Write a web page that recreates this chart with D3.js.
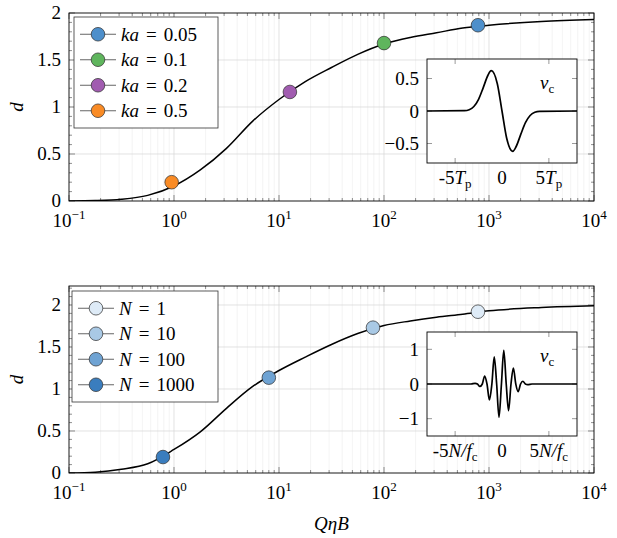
<!DOCTYPE html>
<html>
<head>
<meta charset="utf-8">
<script src="https://cdn.jsdelivr.net/npm/d3@7"></script>
<style>
  body { margin: 0; background: #fff; }
  svg { display: block; }
</style>
</head>
<body>
<div id="chart"></div>
<script>
const WIDTH = 617;
const HEIGHT = 538;
const FONT = "'Liberation Serif', Tinos, 'Noto Serif', 'DejaVu Serif', FreeSerif, 'Nimbus Roman', 'Times New Roman', Times, serif";

// d against QηB
const curveQ = [0.1, 0.178, 0.316, 0.562, 1, 1.78, 3.16, 5.62, 10, 17.8, 31.6, 56.2, 100, 178, 316, 562, 1000, 3162, 10000];
const curveTopD = [0, 0.004, 0.018, 0.06, 0.16, 0.33, 0.56, 0.85, 1.08, 1.27, 1.42, 1.56, 1.67, 1.74, 1.79, 1.84, 1.87, 1.91, 1.93];
const curveBottomD = [0, 0.01, 0.045, 0.11, 0.28, 0.49, 0.77, 1.03, 1.22, 1.38, 1.53, 1.66, 1.755, 1.81, 1.855, 1.89, 1.93, 1.97, 1.99];

// markers, in legend order
const kaLabels = ['0.05', '0.1', '0.2', '0.5'];
const kaQ = [785, 100, 12.7, 0.95];
const kaD = [1.87, 1.68, 1.16, 0.20];
const kaColors = ['#4d8fcb', '#5fb55d', '#a15cb0', '#f98b25'];

const nLabels = ['1', '10', '100', '1000'];
const nQ = [785, 78.5, 8.0, 0.785];
const nD = [1.92, 1.73, 1.135, 0.19];
const nColors = ['#deebf7', '#a9c9e5', '#6fa3d3', '#3a7dbe'];

// inset waveforms
const pulseT = [-8, -4, -3.5, -3, -2.5, -2, -1.5, -1.15, -0.5, 0, 0.5, 1.15, 1.5, 2, 2.5, 3, 3.5, 4, 8];
const pulseV = [0, 0.005, 0.02, 0.07, 0.18, 0.36, 0.55, 0.62, 0.42, 0, -0.42, -0.62, -0.55, -0.36, -0.18, -0.07, -0.02, -0.005, 0];

const burstT = [-8, -3.3, -2.87, -2.62, -2.36, -2.1, -1.85, -1.6, -1.34, -1.08, -0.83, -0.57, -0.32, -0.06, 0.19, 0.45, 0.70, 0.96, 1.21, 1.47, 1.72, 1.98, 2.23, 2.49, 2.74, 3.2, 8];
const burstV = [0, 0, 0.02, 0, -0.07, 0, 0.23, 0, -0.46, 0, 0.78, 0, -0.96, 0, 0.97, 0, -0.77, 0, 0.46, 0, -0.22, 0, 0.08, 0, -0.02, 0, 0];

const xDecades = [0.1, 1, 10, 100, 1000, 10000];
const xDecadeExp = ['−1', '0', '1', '2', '3', '4'];
const yTickValues = [0, 0.5, 1, 1.5, 2];
const yTickLabels = ['0', '0.5', '1', '1.5', '2'];

const svg = d3.select('#chart').append('svg')
  .attr('width', WIDTH)
  .attr('height', HEIGHT)
  .attr('font-family', FONT)
  .style('font-family', FONT);

// text made of plain / italic / sub- and superscript pieces
const addMath = (textSel, parts) => {
  parts.forEach(p => {
    const ts = textSel.append('tspan').text(p.t);
    if (p.italic) ts.attr('font-style', 'italic');
    if (p.size) ts.attr('font-size', p.size);
    if (p.dy) ts.attr('dy', p.dy);
    if (p.dx) ts.attr('dx', p.dx);
  });
  return textSel;
};

const x = d3.scaleLog().domain([0.1, 1e4]).range([69, 594]);

function drawPanel(cfg) {
  const g = svg.append('g');
  const y = d3.scaleLinear().domain([0, cfg.yMax]).range([cfg.bottom, cfg.top]);
  const [x0, x1] = x.range();

  const allX = x.ticks().filter(v => v > 0.1 && v < 1e4);
  const minorX = allX.filter(v => !xDecades.some(d => Math.abs(d - v) < 1e-9));

  // grid
  g.append('g')
    .attr('stroke', '#ececec')
    .attr('stroke-width', 0.6)
    .selectAll('line')
    .data(minorX)
    .join('line')
    .attr('x1', d => x(d)).attr('x2', d => x(d))
    .attr('y1', cfg.top).attr('y2', cfg.bottom);

  g.append('g')
    .attr('stroke', '#d6d6d6')
    .attr('stroke-width', 0.7)
    .call(s => s.selectAll('line.v')
      .data(xDecades.slice(1, -1))
      .join('line')
      .attr('class', 'v')
      .attr('x1', d => x(d)).attr('x2', d => x(d))
      .attr('y1', cfg.top).attr('y2', cfg.bottom))
    .call(s => s.selectAll('line.h')
      .data(yTickValues.filter(v => v > 0 && v < cfg.yMax - 0.01))
      .join('line')
      .attr('class', 'h')
      .attr('x1', x0).attr('x2', x1)
      .attr('y1', d => y(d)).attr('y2', d => y(d)));

  // tick marks, inward on all four sides
  const ticks = g.append('g').attr('stroke', '#444').attr('stroke-width', 0.6);
  const minorY = d3.range(1, Math.round(cfg.yMax * 10) + 1).map(i => i / 10)
    .filter(v => v < cfg.yMax && !yTickValues.some(t => Math.abs(t - v) < 1e-9));
  const xMarks = [...xDecades.map(v => ({ v, len: 6 })), ...minorX.map(v => ({ v, len: 3 }))];
  const yMarks = [...yTickValues.map(v => ({ v, len: 6 })), ...minorY.map(v => ({ v, len: 3 }))];
  [cfg.bottom, cfg.top].forEach(edge => {
    const dir = edge === cfg.bottom ? -1 : 1;
    ticks.append('g').selectAll('line')
      .data(xMarks)
      .join('line')
      .attr('x1', d => x(d.v)).attr('x2', d => x(d.v))
      .attr('y1', edge).attr('y2', d => edge + dir * d.len);
  });
  [x0, x1].forEach(edge => {
    const dir = edge === x0 ? 1 : -1;
    ticks.append('g').selectAll('line')
      .data(yMarks)
      .join('line')
      .attr('y1', d => y(d.v)).attr('y2', d => y(d.v))
      .attr('x1', edge).attr('x2', d => edge + dir * d.len);
  });

  // curve
  const clipId = 'clip-' + cfg.id;
  g.append('clipPath').attr('id', clipId)
    .append('rect')
    .attr('x', x0).attr('y', cfg.top)
    .attr('width', x1 - x0).attr('height', cfg.bottom - cfg.top);

  const line = d3.line()
    .x(d => x(d[0]))
    .y(d => y(d[1]))
    .curve(d3.curveMonotoneX);

  g.append('path')
    .datum(curveQ.map((q, i) => [q, cfg.curveD[i]]))
    .attr('clip-path', `url(#${clipId})`)
    .attr('fill', 'none')
    .attr('stroke', '#000')
    .attr('stroke-width', 1.5)
    .attr('d', line);

  // markers
  g.append('g')
    .attr('stroke', '#2b2b2b')
    .attr('stroke-width', 0.7)
    .selectAll('circle')
    .data(cfg.markerQ.map((q, i) => ({ q, d: cfg.markerD[i], c: cfg.colors[i] })))
    .join('circle')
    .attr('cx', d => x(d.q))
    .attr('cy', d => y(d.d))
    .attr('r', 6.8)
    .attr('fill', d => d.c);

  // frame
  g.append('rect')
    .attr('x', x0).attr('y', cfg.top)
    .attr('width', x1 - x0).attr('height', cfg.bottom - cfg.top)
    .attr('fill', 'none')
    .attr('stroke', '#000')
    .attr('stroke-width', 0.9);

  // tick labels
  xDecades.forEach((v, i) => {
    addMath(g.append('text')
      .attr('x', x(v))
      .attr('y', cfg.bottom + 26)
      .attr('font-size', 19)
      .attr('text-anchor', 'middle'),
    [{ t: '10' }, { t: xDecadeExp[i], size: 13, dy: -8 }]);
  });

  g.append('g')
    .attr('font-size', 19)
    .attr('text-anchor', 'end')
    .selectAll('text')
    .data(yTickValues)
    .join('text')
    .attr('x', 61)
    .attr('y', d => y(d) + 6)
    .text((d, i) => yTickLabels[i]);

  // axis label d
  g.append('text')
    .attr('transform', `translate(23,${(cfg.top + cfg.bottom) / 2}) rotate(-90)`)
    .attr('font-size', 19)
    .attr('font-style', 'italic')
    .attr('text-anchor', 'middle')
    .text('d');

  // legend
  const lg = g.append('g');
  const lb = cfg.legendBox;
  lg.append('rect')
    .attr('x', lb.x).attr('y', lb.y)
    .attr('width', lb.w).attr('height', lb.h)
    .attr('fill', '#fff')
    .attr('stroke', '#333')
    .attr('stroke-width', 0.8);
  const rowY = i => lb.y + lb.h / 2 + (i - 1.5) * 25.5;
  cfg.labels.forEach((label, i) => {
    lg.append('line')
      .attr('x1', lb.x + 6).attr('x2', lb.x + 42)
      .attr('y1', rowY(i)).attr('y2', rowY(i))
      .attr('stroke', '#666')
      .attr('stroke-width', 1);
    lg.append('circle')
      .attr('cx', lb.x + 24).attr('cy', rowY(i))
      .attr('r', 6.8)
      .attr('fill', cfg.colors[i])
      .attr('stroke', '#2b2b2b')
      .attr('stroke-width', 0.7);
    addMath(lg.append('text')
      .attr('x', lb.x + 47)
      .attr('y', rowY(i) + 6.5)
      .attr('font-size', 19),
    [{ t: cfg.symbol, italic: true }, { t: '=', dx: 7 }, { t: label, dx: 7 }]);
  });

  if (cfg.xLabel) {
    g.append('text')
      .attr('x', (x0 + x1) / 2)
      .attr('y', cfg.bottom + 57)
      .attr('font-size', 19)
      .attr('font-style', 'italic')
      .attr('text-anchor', 'middle')
      .text(cfg.xLabel);
  }

  drawInset(g, cfg.inset);
}

function drawInset(g, inset) {
  const r = inset.rect;
  const ix = d3.scaleLinear().domain([-8, 8]).range([r.x, r.x + r.w]);
  const iy = d3.scaleLinear().domain(inset.yDomain).range([r.y + r.h, r.y]);
  const ig = g.append('g');

  ig.append('rect')
    .attr('x', r.x).attr('y', r.y)
    .attr('width', r.w).attr('height', r.h)
    .attr('fill', '#fff');

  const tk = ig.append('g').attr('stroke', '#555').attr('stroke-width', 0.6);
  [-5, 5].forEach(v => {
    tk.append('line').attr('x1', ix(v)).attr('x2', ix(v)).attr('y1', r.y + r.h).attr('y2', r.y + r.h - 5);
    tk.append('line').attr('x1', ix(v)).attr('x2', ix(v)).attr('y1', r.y).attr('y2', r.y + 5);
  });
  inset.yTicks.forEach(v => {
    tk.append('line').attr('x1', r.x).attr('x2', r.x + 5).attr('y1', iy(v)).attr('y2', iy(v));
    tk.append('line').attr('x1', r.x + r.w).attr('x2', r.x + r.w - 5).attr('y1', iy(v)).attr('y2', iy(v));
  });

  ig.append('path')
    .datum(inset.t.map((t, i) => [t, inset.v[i]]))
    .attr('fill', 'none')
    .attr('stroke', '#000')
    .attr('stroke-width', 1.7)
    .attr('stroke-linejoin', 'round')
    .attr('d', d3.line().x(d => ix(d[0])).y(d => iy(d[1])).curve(d3.curveMonotoneX));

  ig.append('rect')
    .attr('x', r.x).attr('y', r.y)
    .attr('width', r.w).attr('height', r.h)
    .attr('fill', 'none')
    .attr('stroke', '#000')
    .attr('stroke-width', 0.9);

  ig.append('g')
    .attr('font-size', 19)
    .attr('text-anchor', 'end')
    .selectAll('text')
    .data(inset.yTicks)
    .join('text')
    .attr('x', r.x - 8)
    .attr('y', d => iy(d) + 6.5)
    .text((d, i) => inset.yTickLabels[i]);

  [-5, 0, 5].forEach((v, i) => {
    addMath(ig.append('text')
      .attr('x', ix(v))
      .attr('y', r.y + r.h + 21)
      .attr('font-size', 19)
      .attr('text-anchor', 'middle'),
    inset.xTickParts[i]);
  });

  addMath(ig.append('text')
    .attr('x', r.x + r.w - 37)
    .attr('y', r.y + 30)
    .attr('font-size', 19),
  [{ t: 'v', italic: true }, { t: 'c', size: 13, dy: 4 }]);
}

drawPanel({
  id: 'top',
  top: 13,
  bottom: 201,
  yMax: 2,
  curveD: curveTopD,
  markerQ: kaQ,
  markerD: kaD,
  colors: kaColors,
  labels: kaLabels,
  symbol: 'ka',
  legendBox: { x: 74, y: 17, w: 144, h: 111 },
  inset: {
    rect: { x: 427, y: 59, w: 150, h: 104 },
    yDomain: [-0.8, 0.8],
    yTicks: [0.5, 0, -0.5],
    yTickLabels: ['0.5', '0', '−0.5'],
    t: pulseT,
    v: pulseV,
    xTickParts: [
      [{ t: '-5' }, { t: 'T', italic: true }, { t: 'p', size: 13, dy: 4 }],
      [{ t: '0' }],
      [{ t: '5' }, { t: 'T', italic: true }, { t: 'p', size: 13, dy: 4 }]
    ]
  }
});

drawPanel({
  id: 'bottom',
  top: 286,
  bottom: 473,
  yMax: 2.226,
  curveD: curveBottomD,
  markerQ: nQ,
  markerD: nD,
  colors: nColors,
  labels: nLabels,
  symbol: 'N',
  legendBox: { x: 72, y: 291, w: 146, h: 111 },
  xLabel: 'QηB',
  inset: {
    rect: { x: 427, y: 332, w: 150, h: 104 },
    yDomain: [-1.5, 1.5],
    yTicks: [1, 0, -1],
    yTickLabels: ['1', '0', '−1'],
    t: burstT,
    v: burstV,
    xTickParts: [
      [{ t: '-5' }, { t: 'N/f', italic: true }, { t: 'c', size: 13, dy: 4 }],
      [{ t: '0' }],
      [{ t: '5' }, { t: 'N/f', italic: true }, { t: 'c', size: 13, dy: 4 }]
    ]
  }
});
</script>
</body>
</html>
